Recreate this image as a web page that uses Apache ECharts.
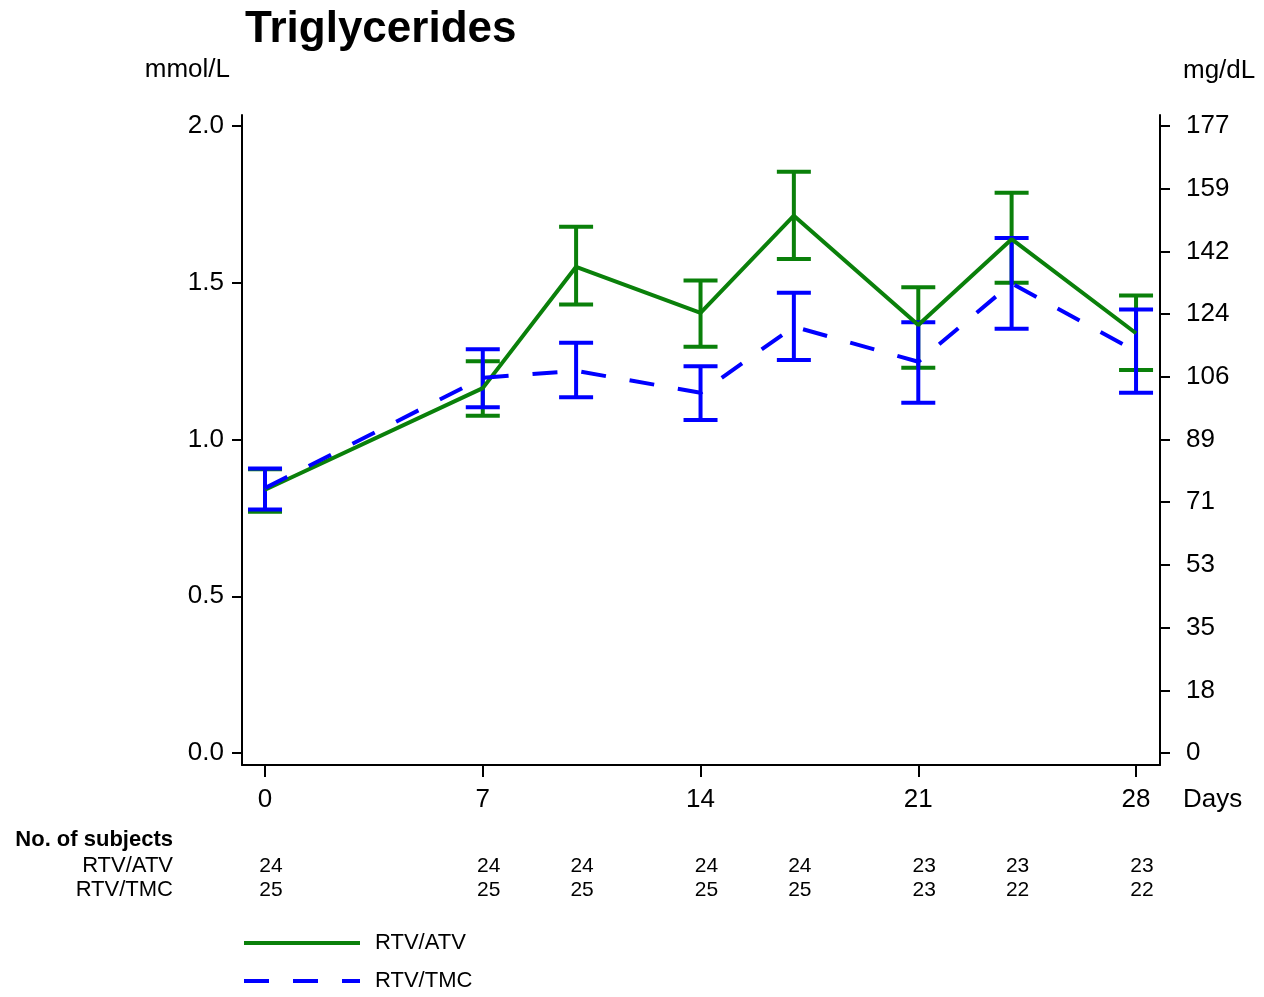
<!DOCTYPE html>
<html><head><meta charset="utf-8">
<script src="https://cdn.jsdelivr.net/npm/echarts@6/dist/echarts.min.js"></script>
<style>html,body{margin:0;padding:0;background:#fff}#c{width:1264px;height:997px}</style>
</head><body><div id="c"></div>
<script>
// ---- data ----
const days = [0, 7, 10, 14, 17, 21, 24, 28];
const atvMean = [0.840, 1.164, 1.551, 1.404, 1.714, 1.365, 1.639, 1.339];
const atvLow  = [0.770, 1.076, 1.431, 1.296, 1.576, 1.229, 1.500, 1.222];
const atvHigh = [0.905, 1.250, 1.679, 1.507, 1.854, 1.486, 1.787, 1.459];
const tmcMean = [0.845, 1.197, 1.219, 1.149, 1.360, 1.248, 1.498, 1.281];
const tmcLow  = [0.777, 1.103, 1.135, 1.062, 1.254, 1.117, 1.353, 1.149];
const tmcHigh = [0.908, 1.288, 1.309, 1.234, 1.468, 1.374, 1.643, 1.415];
const atvN = [24, 24, 24, 24, 24, 23, 23, 23];
const tmcN = [25, 25, 25, 25, 25, 23, 22, 22];
const xTicks = [0, 7, 14, 21, 28];
const leftTicks = [0, 0.5, 1.0, 1.5, 2.0];
const rightTickValues = [0, 0.2, 0.4, 0.6, 0.8, 1.0, 1.2, 1.4, 1.6, 1.8, 2.0];
const rightTickLabels = ['0', '18', '35', '53', '71', '89', '106', '124', '142', '159', '177'];
const rowNames = ['RTV/TMC', 'RTV/ATV']; // bottom to top

// ---- style ----
const FONT = 'Liberation Sans, Arial, sans-serif';
const GREEN = '#0a800a';
const BLUE = '#0000ff';
const LW = 4;

function errRender(color) {
  return function (params, api) {
    const x = api.value(0);
    const lo = api.coord([x, api.value(1)]);
    const hi = api.coord([x, api.value(2)]);
    const hw = 17;
    const st = { stroke: color, lineWidth: LW, lineCap: 'butt' };
    return {
      type: 'group',
      children: [
        { type: 'line', shape: { x1: lo[0], y1: lo[1], x2: hi[0], y2: hi[1] }, style: st },
        { type: 'line', shape: { x1: lo[0] - hw, y1: lo[1], x2: lo[0] + hw, y2: lo[1] }, style: st },
        { type: 'line', shape: { x1: hi[0] - hw, y1: hi[1], x2: hi[0] + hw, y2: hi[1] }, style: st }
      ]
    };
  };
}

const axisLineStyle = { color: '#000', width: 2 };
const chart = echarts.init(document.getElementById('c'), null, { renderer: 'canvas' });
chart.setOption({
  animation: false,
  backgroundColor: '#fff',
  textStyle: { fontFamily: FONT, color: '#000' },
  title: {
    text: 'Triglycerides', left: 245, top: 8, padding: 0,
    textStyle: { fontFamily: FONT, fontSize: 44, fontWeight: 'bold', color: '#000' }
  },
  grid: [
    { left: 242, top: 115, width: 918, height: 650 },
    { left: 242, top: 854, width: 918, height: 48 }
  ],
  xAxis: [
    {
      type: 'value', gridIndex: 0, min: -0.74, max: 28.77,
      axisLine: { show: true, onZero: false, lineStyle: axisLineStyle },
      axisTick: { show: true, length: 12, lineStyle: axisLineStyle, customValues: xTicks },
      axisLabel: { customValues: xTicks, fontSize: 26, margin: 22, color: '#000', fontFamily: FONT },
      splitLine: { show: false }
    },
    { type: 'value', gridIndex: 1, min: -0.74, max: 28.77, show: false }
  ],
  yAxis: [
    {
      type: 'value', gridIndex: 0, position: 'left', min: -0.038, max: 2.035,
      axisLine: { show: true, onZero: false, lineStyle: axisLineStyle },
      axisTick: { show: true, length: 10, lineStyle: axisLineStyle, customValues: leftTicks },
      axisLabel: { customValues: leftTicks, formatter: v => v.toFixed(1), fontSize: 26, margin: 18, color: '#000', fontFamily: FONT },
      splitLine: { show: false },
      name: 'mmol/L', nameLocation: 'end', nameGap: 45,
      nameTextStyle: { fontSize: 26, color: '#000', fontFamily: FONT, align: 'right', verticalAlign: 'middle', padding: [0, 12, 0, 0] }
    },
    {
      type: 'value', gridIndex: 0, position: 'right', min: -0.038, max: 2.035,
      axisLine: { show: true, onZero: false, lineStyle: axisLineStyle },
      axisTick: { show: true, length: 10, lineStyle: axisLineStyle, customValues: rightTickValues },
      axisLabel: {
        customValues: rightTickValues, fontSize: 26, margin: 26, color: '#000', fontFamily: FONT,
        formatter: v => {
          let best = 0;
          rightTickValues.forEach((t, i) => { if (Math.abs(t - v) < Math.abs(rightTickValues[best] - v)) best = i; });
          return rightTickLabels[best];
        }
      },
      splitLine: { show: false },
      name: 'mg/dL', nameLocation: 'end', nameGap: 44,
      nameTextStyle: { fontSize: 26, color: '#000', fontFamily: FONT, align: 'left', verticalAlign: 'middle', padding: [0, 0, 0, 23] }
    },
    {
      type: 'category', gridIndex: 1, data: rowNames,
      axisLine: { show: false }, axisTick: { show: false }, splitLine: { show: false },
      axisLabel: { interval: 0, fontSize: 22, margin: 69, color: '#000', fontFamily: FONT }
    }
  ],
  legend: {
    orient: 'vertical', left: 242, top: 932, padding: 0,
    itemWidth: 116, itemHeight: 4, itemGap: 16,
    data: ['RTV/ATV', 'RTV/TMC'],
    textStyle: { fontSize: 22, color: '#000', fontFamily: FONT, padding: [0, 0, 0, 10] },
    lineStyle: { width: LW },
    itemStyle: { color: 'rgba(0,0,0,0)', borderWidth: 0 }
  },
  graphic: [
    { type: 'text', x: 1183, y: 800, style: { text: 'Days', fontSize: 26, fontFamily: FONT, fill: '#000', align: 'left', verticalAlign: 'middle' } },
    { type: 'text', x: 173, y: 840, style: { text: 'No. of subjects', fontSize: 22, fontWeight: 'bold', fontFamily: FONT, fill: '#000', align: 'right', verticalAlign: 'middle' } }
  ],
  series: [
    {
      name: 'RTV/ATV', type: 'line', xAxisIndex: 0, yAxisIndex: 0, symbol: 'none',
      data: days.map((d, i) => [d, atvMean[i]]),
      lineStyle: { color: GREEN, width: LW }, itemStyle: { color: GREEN }
    },
    {
      name: 'RTV/ATV range', type: 'custom', xAxisIndex: 0, yAxisIndex: 0,
      renderItem: errRender(GREEN), encode: { x: 0, y: [1, 2] },
      data: days.map((d, i) => [d, atvLow[i], atvHigh[i]])
    },
    {
      name: 'RTV/TMC', type: 'line', xAxisIndex: 0, yAxisIndex: 0, symbol: 'none',
      data: days.map((d, i) => [d, tmcMean[i]]),
      lineStyle: { color: BLUE, width: LW, type: [25, 24] }, itemStyle: { color: BLUE }
    },
    {
      name: 'RTV/TMC range', type: 'custom', xAxisIndex: 0, yAxisIndex: 0,
      renderItem: errRender(BLUE), encode: { x: 0, y: [1, 2] },
      data: days.map((d, i) => [d, tmcLow[i], tmcHigh[i]])
    },
    {
      name: 'subjects', type: 'scatter', xAxisIndex: 1, yAxisIndex: 2,
      symbolSize: 1, itemStyle: { color: 'rgba(0,0,0,0)', opacity: 1 },
      data: days.map((d, i) => [d, 1, atvN[i]]).concat(days.map((d, i) => [d, 0, tmcN[i]])),
      label: { show: true, position: 'inside', offset: [6, 0], formatter: p => String(p.value[2]), fontSize: 21, color: '#000', opacity: 1, fontFamily: FONT },
      emphasis: { disabled: true },
      silent: true
    }
  ]
});
</script></body></html>
